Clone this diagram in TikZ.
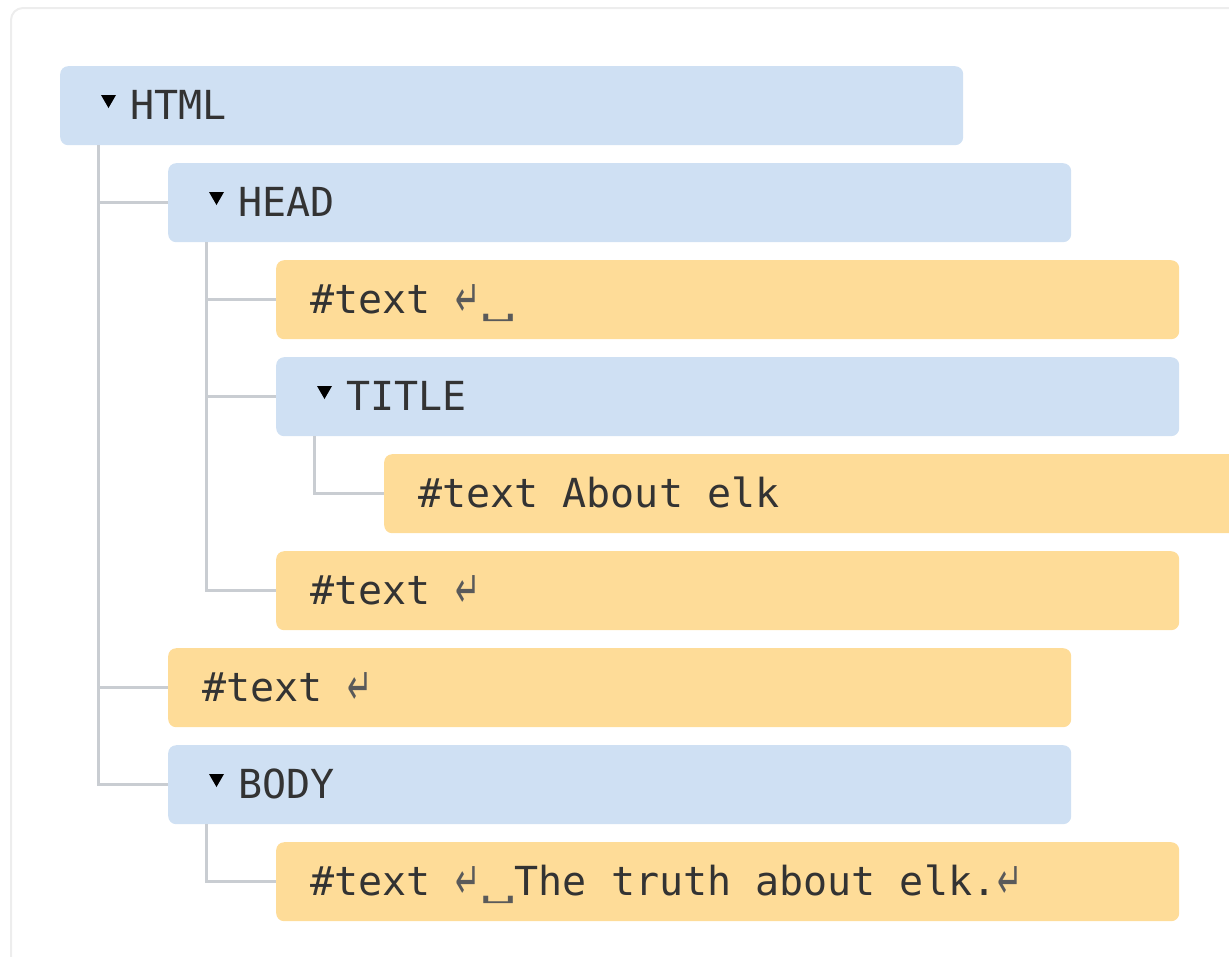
\documentclass[tikz,border=0pt]{standalone}
\usepackage{fontspec}
\usepackage{graphicx}
\setmonofont{DejaVu Sans Mono}
\newfontfamily\symfont{DejaVu Sans}
\definecolor{elemblue}{HTML}{CFE0F3}
\definecolor{textorange}{HTML}{FEDC98}
\definecolor{treegray}{HTML}{C9CDD2}
\definecolor{framegray}{HTML}{EDEDED}
\definecolor{labelink}{HTML}{333333}
\definecolor{symink}{HTML}{5A5A5A}
% whitespace markers: line break and space
\newcommand\nlmark{\makebox[27pt][c]{\raisebox{-3pt}{\symfont\fontsize{30}{30}\selectfont\color{symink}\scalebox{1.0}[1.7]{↵}}}}
\newcommand\spmark{\makebox[33pt][c]{\raisebox{-3pt}{\symfont\fontsize{30}{30}\selectfont\color{symink}\scalebox{2.0}[0.75]{␣}}}}
\tikzset{
  treebox/.style={anchor=north west, rounded corners=8pt, minimum width=903pt,
    minimum height=79pt, inner ysep=0pt, text height=53pt, text depth=26pt,
    align=flush left, text=labelink, font=\ttfamily\fontsize{40}{48}\selectfont},
  elembox/.style={treebox, fill=elemblue, inner xsep=70pt, text width=763pt},
  textbox/.style={treebox, fill=textorange, inner xsep=34pt, text width=835pt},
  branch/.style={draw=treegray, line width=3pt},
  toggle/.style={fill=black},
}
\begin{document}
\begin{tikzpicture}[x=1pt,y=-1pt]
  \useasboundingbox (0,0) rectangle (1229,956);
  % outer panel
  \draw[framegray, line width=2pt, rounded corners=12pt] (11,8) rectangle (1260,990);

  % tree rows
  \node[elembox] (html)  at (60,66)   {HTML};
  \node[elembox] (head)  at (168,163) {HEAD};
  \node[textbox] (t1)    at (276,260) {\#text \nlmark\spmark};
  \node[elembox] (title) at (276,357) {TITLE};
  \node[textbox] (t2)    at (384,454) {\#text About elk};
  \node[textbox] (t3)    at (276,551) {\#text \nlmark};
  \node[textbox] (t4)    at (168,648) {\#text \nlmark};
  \node[elembox] (body)  at (168,745) {BODY};
  \node[textbox] (t5)    at (276,842) {\#text \nlmark\spmark The truth about elk.\nlmark};

  % disclosure triangles
  \foreach \n in {html,head,title,body}
    \fill[toggle] ([shift={(41,29)}]\n.north west) -- ++(15,0) -- ++(-7.5,13) -- cycle;

  % branches
  \coordinate (sHtml)  at ([xshift=38pt]html.south west);
  \coordinate (sHead)  at ([xshift=38pt]head.south west);
  \coordinate (sTitle) at ([xshift=38pt]title.south west);
  \coordinate (sBody)  at ([xshift=38pt]body.south west);
  \draw[branch] (sHtml) |- (head.west);
  \draw[branch] (sHtml) |- (t4.west);
  \draw[branch] (sHtml) |- (body.west);
  \draw[branch] (sHead) |- (t1.west);
  \draw[branch] (sHead) |- (title.west);
  \draw[branch] (sHead) |- (t3.west);
  \draw[branch] (sTitle) |- (t2.west);
  \draw[branch] (sBody) |- (t5.west);
\end{tikzpicture}
\end{document}
